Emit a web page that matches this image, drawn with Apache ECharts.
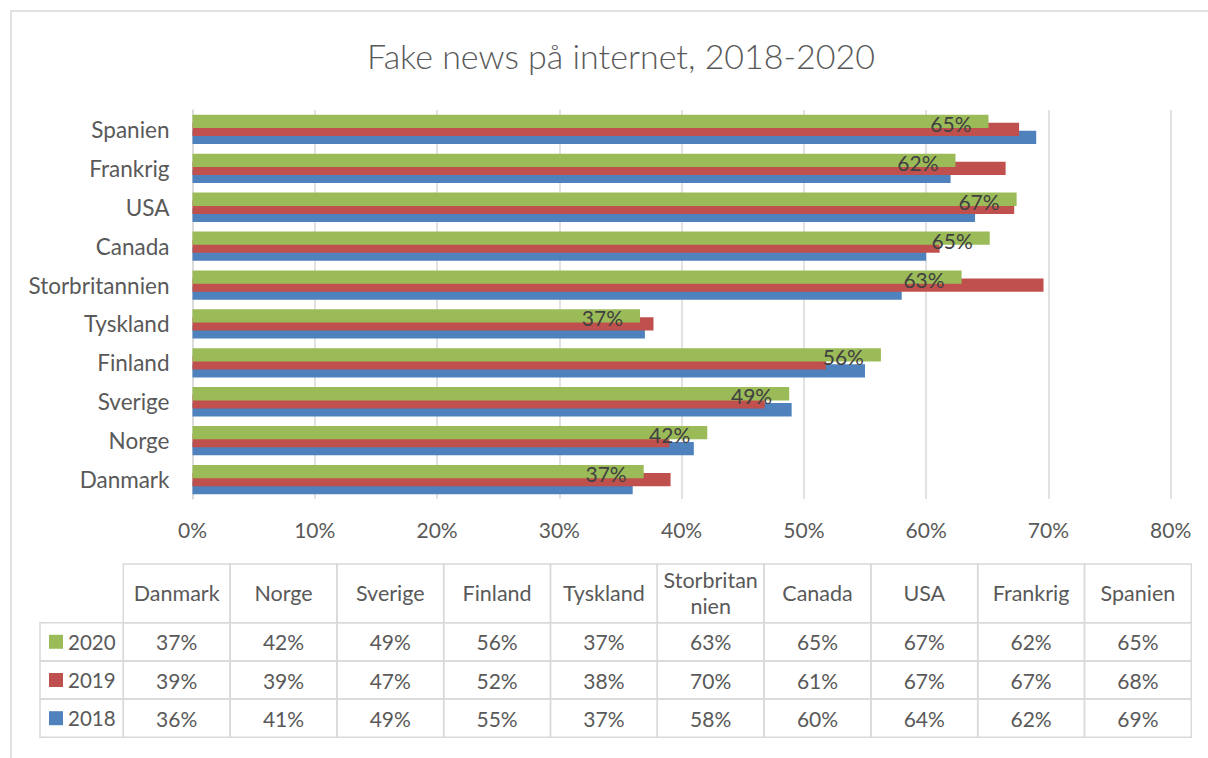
<!DOCTYPE html>
<html>
<head>
<meta charset="utf-8">
<script src="https://cdn.jsdelivr.net/npm/echarts@6/dist/echarts.min.js"></script>
<style>
html,body{margin:0;padding:0;background:#fff;}
#chart{width:1208px;height:758px;}
</style>
</head>
<body>
<div id="chart"></div>
<script>
const titleText = 'Fake news på internet, 2018-2020';
const categories = ['Danmark','Norge','Sverige','Finland','Tyskland','Storbritannien','Canada','USA','Frankrig','Spanien'];
const tableHeaders = ['Danmark','Norge','Sverige','Finland','Tyskland','Storbritan\nnien','Canada','USA','Frankrig','Spanien'];
const seriesNames = ['2020','2019','2018'];
const values2020 = [36.9, 42.1, 48.8, 56.3, 36.6, 62.9, 65.2, 67.4, 62.4, 65.1];
const values2019 = [39.1, 39.0, 46.8, 51.8, 37.7, 69.6, 61.1, 67.2, 66.5, 67.6];
const values2018 = [36.0, 41.0, 49.0, 55.0, 37.0, 58.0, 60.0, 64.0, 62.0, 69.0];
const xTicks = [0, 10, 20, 30, 40, 50, 60, 70, 80];

const colors = {'2020':'#9BBB59','2019':'#C0504D','2018':'#4F81BD'};
const seriesValues = {'2020':values2020,'2019':values2019,'2018':values2018};
const FONT = 'Lato';
const TXT = '#595959';
const LINE = '#D9D9D9';

const chart = echarts.init(document.getElementById('chart'), null, {renderer:'svg'});

// table layout
const T = {x0:40, col0W:83.3, colX:123.3, colW:106.8, headTop:564, headH:58.7, rowH:38.2};
const graphics = [];
graphics.push({type:'rect', shape:{x:11,y:11,width:1210,height:760}, style:{fill:'none',stroke:LINE,lineWidth:1.5}, silent:true, z:0});
tableHeaders.forEach((h,i)=>{
  const x = T.colX + i*T.colW;
  graphics.push({type:'rect', shape:{x:x,y:T.headTop,width:T.colW,height:T.headH}, style:{fill:'none',stroke:LINE,lineWidth:1.5}});
  graphics.push({type:'text', style:{text:h, x:x+T.colW/2, y:T.headTop+T.headH/2, align:'center', verticalAlign:'middle', fontSize:21.5, lineHeight:26, fontFamily:FONT, fill:TXT}});
});
seriesNames.forEach((s,r)=>{
  const y = T.headTop + T.headH + r*T.rowH;
  graphics.push({type:'rect', shape:{x:T.x0,y:y,width:T.col0W,height:T.rowH}, style:{fill:'none',stroke:LINE,lineWidth:1.5}});
  graphics.push({type:'rect', shape:{x:49,y:y+T.rowH/2-7,width:14,height:14}, style:{fill:colors[s]}});
  graphics.push({type:'text', style:{text:s, x:68, y:y+T.rowH/2, align:'left', verticalAlign:'middle', fontSize:20.5, fontFamily:FONT, fill:TXT}});
  seriesValues[s].forEach((v,i)=>{
    const x = T.colX + i*T.colW;
    graphics.push({type:'rect', shape:{x:x,y:y,width:T.colW,height:T.rowH}, style:{fill:'none',stroke:LINE,lineWidth:1.5}});
    graphics.push({type:'text', style:{text:Math.round(v)+'%', x:x+T.colW/2, y:y+T.rowH/2, align:'center', verticalAlign:'middle', fontSize:21, fontFamily:FONT, fill:TXT}});
  });
});

const zOrder = {'2020':4,'2019':3,'2018':2};
const series = seriesNames.map(s=>({
  name:s, type:'bar', data:seriesValues[s], barWidth:13.3, barGap:'-40%', z:zOrder[s],
  itemStyle:{color:colors[s]},
  label: s==='2020' ? {show:true, position:'insideRight', distance:17, offset:[0,2], fontSize:21, fontFamily:FONT, color:'#404040', formatter:p=>Math.round(p.value)+'%'} : {show:false},
  animation:false
}));

chart.setOption({
  animation:false,
  title:{text:titleText, left:616, top:33, textAlign:'center', textStyle:{fontFamily:FONT, fontSize:34, fontWeight:300, color:TXT}},
  grid:{left:192.5, right:37.3, top:110, bottom:259, containLabel:false},
  xAxis:{type:'value', min:xTicks[0], max:xTicks[xTicks.length-1], interval:xTicks[1]-xTicks[0],
    axisLine:{show:false}, axisTick:{show:false},
    splitLine:{show:true, lineStyle:{color:LINE, width:1.5}},
    axisLabel:{formatter:'{value}%', fontSize:21, fontFamily:FONT, color:TXT, margin:20}},
  yAxis:{type:'category', data:categories, axisTick:{show:false},
    axisLine:{show:true, lineStyle:{color:LINE, width:1.5}},
    axisLabel:{fontSize:22.5, fontFamily:FONT, color:TXT, margin:23}},
  series:series,
  graphic:graphics
});
</script>
</body>
</html>
